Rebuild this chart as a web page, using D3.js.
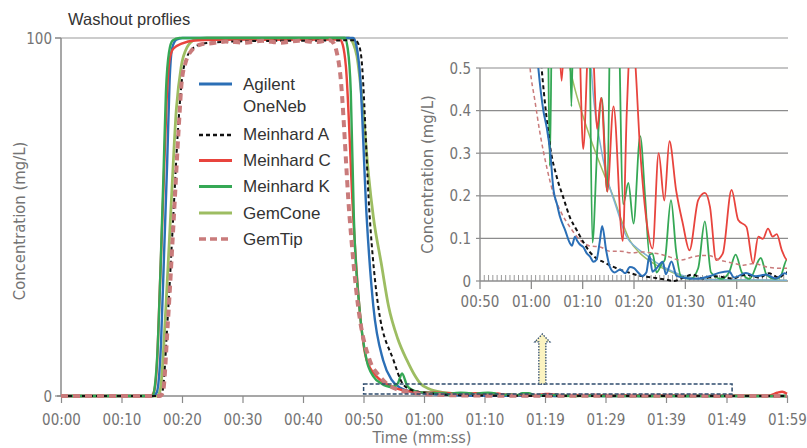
<!DOCTYPE html>
<html><head><meta charset="utf-8">
<script src="https://cdn.jsdelivr.net/npm/d3@7/dist/d3.min.js"></script>
<style>
body{margin:0;background:#fff;}
svg{display:block;}
.cond{font-family:"DejaVu Sans Condensed","DejaVu Sans",sans-serif;font-stretch:condensed;fill:#747474;}
.reg{font-family:"Liberation Sans",Arial,sans-serif;fill:#333;}
</style></head><body>
<svg id="chart" width="807" height="448"></svg>
<script>
// ---------------- DATA ----------------
const mainTickLabels = ["00:00","00:10","00:20","00:30","00:40","00:50","01:00","01:10","01:19","01:29","01:39","01:49","01:59"];
const mainYTicks = [0, 100];
const insetTickTimes = [50, 60, 70, 80, 90, 100];
const insetTickLabels = ["00:50","01:00","01:10","01:20","01:30","01:40"];
const insetYTicks = [0, 0.1, 0.2, 0.3, 0.4, 0.5];
const seriesNames = ["Agilent OneNeb","Meinhard A","Meinhard C","Meinhard K","GemCone","GemTip"];

// [time in seconds, concentration mg/L]
const agilentOneNeb = [[0,0],[15.1,0],[15.7,1],[16.4,15],[16.9,40],[17.4,65],[17.8,88],[18.2,97],[18.9,99.5],[19.9,100],[47.9,100],[48.4,98],[49.0,90],[50.1,50],[51.2,25],[52.8,10],[54.2,4.5],[55.7,2.2],[57.8,1.1],[60,0.72],
 [61.36,0.5],[62.34,0.40],[63.0,0.36],[63.65,0.306],[64.3,0.215],[65.0,0.18],[65.6,0.15],[66.6,0.119],[67.5,0.089],[67.9,0.083],[68.5,0.104],[68.9,0.095],[69.5,0.085],[70.1,0.08],[70.8,0.065],[71.4,0.058],[72.1,0.045],[72.7,0.05],[73.3,0.09],[73.8,0.129],[74.6,0.07],[75.3,0.033],[76.2,0.02],[77.3,0.027],[78.3,0.018],[79.2,0.033],[80.0,0.03],[80.8,0.02],[81.6,0.012],[82.4,0.02],[83.0,0.06],[83.6,0.022],[84.4,0.03],[85.6,0.045],[86.2,0.016],[87.3,0.046],[88.3,0.012],[90,0.007],[92,0.005],[94.7,0.011],[96.5,0.019],[98.5,0.023],[99.5,0.008],[101.8,0.019],[103.7,0.011],[105.7,0.015],[107.6,0.006],[109.3,0.018],[112,0.004],[119,0]];

const meinhardA = [[0,0],[16.1,0],[16.6,1],[17.5,22],[18.4,50],[19.2,75],[19.8,88],[20.5,94],[21.9,97.5],[23.9,98.6],[28,99],[35,99.2],[45,99.3],[48.2,99.4],[48.7,98.5],[49.2,95],[50.6,50],[52.0,25],[54.5,10],[56.1,3.2],[57.8,1.5],[60,0.85],
 [62.0,0.5],[62.9,0.39],[63.6,0.32],[64.95,0.244],[66.2,0.197],[67.5,0.15],[68.85,0.119],[70.1,0.092],[71.4,0.068],[72.8,0.052],[74.0,0.045],[75.3,0.037],[76.6,0.03],[77.9,0.024],[79.2,0.019],[81.2,0.012],[83.7,0.008],[86.3,0.003],[87.8,0.0],[89.5,0.007],[91.4,0.015],[93.4,0.006],[96,0.011],[99.2,0.006],[101.8,0.015],[104.4,0.008],[106.3,0.018],[108.3,0.008],[109.6,0.02],[112,0.003],[119,0]];

const meinhardC = [[0,0],[14.7,0],[15.2,1],[15.7,8],[16.2,30],[16.8,58],[17.3,82],[17.8,94],[18.4,97],[19.9,98.5],[21.9,99.3],[25,99.5],[45.7,99.6],[46.2,98],[46.7,92],[47.9,50],[48.9,25],[50.1,10],[52.0,5],[53.7,3],[55.2,2],[56.8,1.4],[58.4,1.1],[60,1.0],
 [62,0.9],[64,0.8],[65.3,0.6],[65.9,0.47],[66.5,0.6],[68,0.8],[69.3,0.6],[70.1,0.31],[71.0,0.55],[71.6,0.7],[72.2,0.5],[72.8,0.357],[73.6,0.43],[74.8,0.21],[76.0,0.41],[77.8,0.094],[78.6,0.4],[79.4,0.58],[80.0,0.55],[81.2,0.306],[82.5,0.135],[83.6,0.076],[84.8,0.3],[85.9,0.189],[86.9,0.328],[88.2,0.213],[89.5,0.135],[90.8,0.072],[92.5,0.19],[93.8,0.207],[94.8,0.174],[96.0,0.049],[97.3,0.065],[99.0,0.214],[100.3,0.143],[101.9,0.127],[103.2,0.041],[104.2,0.104],[105.1,0.099],[106.1,0.123],[107.0,0.104],[107.8,0.11],[108.8,0.072],[109.8,0.05],[111,0.05],[116,0.1],[117.4,0.9],[118.2,1.2],[119,0.6]];

const meinhardK = [[0,0],[15.0,0],[15.4,3],[15.8,12],[16.3,35],[16.8,62],[17.2,85],[17.7,96],[18.3,99.3],[19.4,100],[46.5,100],[47.0,97],[47.5,85],[48.0,50],[48.9,25],[50.1,10],[51.2,5.5],[52.5,3.5],[54.2,2.5],[55.2,3.5],[55.9,6.3],[56.7,3],[57.7,1.6],[58.8,1.1],[60,0.9],
 [61.5,0.8],[63.1,0.7],[63.6,0.27],[64.1,0.7],[65.5,0.9],[67.3,0.7],[67.8,0.41],[68.3,0.7],[70,0.9],[71.2,0.7],[71.9,0.09],[72.8,0.3],[73.7,0.43],[74.8,0.21],[75.6,0.8],[76.6,0.8],[77.9,0.18],[78.9,0.23],[79.9,0.135],[81.2,0.34],[82.2,0.19],[83.0,0.062],[83.6,0.065],[84.4,0.02],[85.4,0.04],[86,0.05],[87.2,0.19],[88.2,0.07],[89.2,0.01],[91,0.005],[92.5,0.03],[93.8,0.14],[95.0,0.02],[97,0.005],[98.5,0.02],[99.8,0.062],[101,0.02],[102.5,0.005],[104.7,0.054],[105.8,0.015],[107.5,0.005],[108.5,0.01],[109.8,0.05],[111,0.01],[119,0]];

const gemCone = [[0,0],[15.8,0],[16.3,2],[17.2,25],[18.1,55],[18.9,80],[19.7,92],[20.7,97.5],[21.9,99.5],[23.9,100],[47.2,100],[47.9,98.5],[48.5,95],[49.5,80],[50.4,62],[51.2,50],[52.5,37],[53.7,25],[55.2,16],[56.7,10],[57.9,6],[58.9,3.5],[60.3,2],[62.5,1.0],[64.5,0.7],[66,0.58],
 [67.5,0.5],[68.5,0.45],[70.8,0.36],[73.3,0.277],[74.7,0.235],[75.9,0.2],[77.8,0.135],[79.1,0.097],[81.1,0.066],[83.7,0.042],[86.2,0.027],[89.5,0.011],[92.7,0.005],[96,0.003],[100,0.002],[119,0]];

const gemTip = [[0,0],[16.2,0],[16.7,1],[17.5,20],[18.5,50],[19.3,75],[19.8,88],[20.4,93],[21.4,96.5],[22.9,98.2],[25,98.6],[27,99],[30,98.7],[33,99.2],[36,98.7],[39,99.2],[42,98.9],[44,99.4],[44.7,98.5],[45.2,96],[45.7,91],[47.3,50],[48.7,25],[50.6,10],[52.3,5.4],[53.7,3],[55.2,1.8],[56.8,1.1],[58.4,0.75],
 [59.75,0.5],[60.7,0.423],[61.7,0.346],[63,0.267],[64.3,0.205],[65.6,0.166],[67.5,0.127],[69.5,0.096],[71.5,0.082],[73.4,0.08],[75.3,0.07],[77.3,0.07],[79.5,0.066],[81.5,0.068],[83.5,0.066],[85.1,0.063],[87,0.056],[89,0.049],[91.6,0.057],[93.5,0.06],[94.8,0.059],[96.5,0.05],[98.1,0.045],[100,0.04],[101.3,0.037],[103.3,0.041],[105.9,0.033],[108.5,0.03],[109.8,0.03],[112,0.01],[119,0]];

// faint unlabeled trace visible only in the zoomed inset
const unlabeledTrace = [[71.0,0.62],[72.2,0.42],[73.3,0.33],[74.6,0.25],[76.5,0.175],[78.5,0.105],[80.5,0.078],[82.5,0.06],[84,0.046],[86.2,0.03],[89,0.015],[92,0.006],[96,0.003],[109.8,0.002]];

// zoom box & arrow annotation (data units)
const zoomBox = {t0:49.6, t1:110.0, v0:0.55, v1:3.35};
const arrowSpec = {t:78.9, vBase:3.35, vHead:15.1, vTip:17.3};

// ---------------- STYLES ----------------
const seriesData = {
  "Agilent OneNeb": agilentOneNeb, "Meinhard A": meinhardA, "Meinhard C": meinhardC,
  "Meinhard K": meinhardK, "GemCone": gemCone, "GemTip": gemTip
};
const styles = {
  "Agilent OneNeb": {color:"#2b6fb6", w:2.4, iw:2.0},
  "Meinhard A":     {color:"#111111", w:2.0, iw:2.0, dash:"4,3", idash:"4,3"},
  "Meinhard C":     {color:"#e8443d", w:2.4, iw:1.8},
  "Meinhard K":     {color:"#35a855", w:2.4, iw:1.8},
  "GemCone":        {color:"#9dbd62", w:2.8, iw:1.5},
  "GemTip":         {color:"#c97b7b", w:4.0, iw:1.5, dash:"7,5", idash:"4,3"}
};

const svg = d3.select("#chart");

// ---------------- MAIN CHART ----------------
const x = d3.scaleLinear().domain([0,119]).range([61,787]);
const y = d3.scaleLinear().domain([0,100]).range([396,38]);

svg.append("text").attr("class","reg").attr("x",68).attr("y",25)
  .attr("font-size",16.5).text("Washout proflies");

// top gridline at 100
svg.append("line").attr("x1",55).attr("x2",788).attr("y1",y(100)).attr("y2",y(100))
  .attr("stroke","#9a9a9a").attr("stroke-width",1.2);

// y axis
svg.append("line").attr("x1",x(0)).attr("x2",x(0)).attr("y1",y(100)).attr("y2",y(0))
  .attr("stroke","#8a8a8a").attr("stroke-width",1.5);
mainYTicks.forEach(v=>{
  svg.append("line").attr("x1",x(0)-6).attr("x2",x(0)).attr("y1",y(v)).attr("y2",y(v))
    .attr("stroke","#8a8a8a").attr("stroke-width",1.2);
  svg.append("text").attr("class","cond").attr("x",x(0)-9).attr("y",y(v)+5.5)
    .attr("text-anchor","end").attr("font-size",15).text(v);
});
svg.append("text").attr("class","cond").attr("font-size",16.5)
  .attr("transform",`translate(25,${(y(0)+y(100))/2+4}) rotate(-90)`)
  .attr("text-anchor","middle").text("Concentration (mg/L)");

// x axis
const mainTickVals = mainTickLabels.map((d,i)=>i*119/12);
const xAxisG = svg.append("g").attr("transform",`translate(0,${y(0)})`)
  .call(d3.axisBottom(x).tickValues(mainTickVals).tickFormat((d,i)=>mainTickLabels[i]).tickSize(7).tickSizeOuter(0));
xAxisG.select(".domain").remove();
xAxisG.selectAll(".tick line").attr("stroke","#8a8a8a").attr("stroke-width",1.2);
xAxisG.selectAll(".tick text").attr("class","cond").attr("font-size",15).attr("dy","1.25em").attr("fill","#747474");
svg.append("line").attr("x1",57).attr("x2",788).attr("y1",y(0)).attr("y2",y(0))
  .attr("stroke","#8a8a8a").attr("stroke-width",1.5);
svg.append("text").attr("class","cond").attr("font-size",16).attr("x",422).attr("y",443)
  .attr("text-anchor","middle").text("Time (mm:ss)");

// main lines
const lineMain = d3.line().x(d=>x(d[0])).y(d=>y(d[1])).curve(d3.curveMonotoneX);
const mainOrder = ["GemCone","Agilent OneNeb","Meinhard C","Meinhard K","Meinhard A","GemTip"];
mainOrder.forEach(n=>{
  const s = styles[n];
  svg.append("path").datum(seriesData[n]).attr("d",lineMain).attr("fill","none")
    .attr("stroke",s.color).attr("stroke-width",s.w).attr("stroke-dasharray",s.dash||null)
    .attr("stroke-linejoin","round");
});

// zoom box
svg.append("rect").attr("x",x(zoomBox.t0)).attr("y",y(zoomBox.v1))
  .attr("width",x(zoomBox.t1)-x(zoomBox.t0)).attr("height",y(zoomBox.v0)-y(zoomBox.v1))
  .attr("fill","none").attr("stroke","#2f4c6e").attr("stroke-width",1.5).attr("stroke-dasharray","4,2");

// arrow
{
  const cx = x(arrowSpec.t), sw = 3.5, hw = 7.5;
  const yb = y(arrowSpec.vBase), yh = y(arrowSpec.vHead), yt = y(arrowSpec.vTip);
  const p = d3.path();
  p.moveTo(cx-sw,yb); p.lineTo(cx-sw,yh); p.lineTo(cx-hw,yh); p.lineTo(cx,yt);
  p.lineTo(cx+hw,yh); p.lineTo(cx+sw,yh); p.lineTo(cx+sw,yb); p.closePath();
  svg.append("path").attr("d",p.toString()).attr("fill","#fbf3c0")
    .attr("stroke","#2f4c6e").attr("stroke-width",1.3).attr("stroke-dasharray","1.5,1.3");
}

// legend
const legendRows = [
  {name:"Agilent OneNeb", ly:84, texts:[["Agilent",90],["OneNeb",112]]},
  {name:"Meinhard A", ly:135, texts:[["Meinhard A",140]]},
  {name:"Meinhard C", ly:160.5, texts:[["Meinhard C",166]]},
  {name:"Meinhard K", ly:186.5, texts:[["Meinhard K",192]]},
  {name:"GemCone", ly:213, texts:[["GemCone",218.5]]},
  {name:"GemTip", ly:239, texts:[["GemTip",245]]}
];
legendRows.forEach(r=>{
  const s = styles[r.name];
  svg.append("line").attr("x1",199).attr("x2",232).attr("y1",r.ly).attr("y2",r.ly)
    .attr("stroke",s.color).attr("stroke-width",r.name==="GemTip"?3.5:(r.name==="Meinhard A"?2.5:3))
    .attr("stroke-dasharray",r.name==="GemTip"?"7,4":(r.name==="Meinhard A"?"4,3":null));
  r.texts.forEach(t=>{
    svg.append("text").attr("class","reg").attr("x",243).attr("y",t[1]).attr("font-size",17).text(t[0]);
  });
});

// ---------------- INSET ----------------
const xi = d3.scaleLinear().domain([50,109.8]).range([480,787]);
const yi = d3.scaleLinear().domain([0,0.5]).range([281,68]);

svg.append("rect").attr("x",414).attr("y",54).attr("width",393).attr("height",258).attr("fill","#fffffe");

insetYTicks.forEach(v=>{
  if(v>0) svg.append("line").attr("x1",xi(50)).attr("x2",788).attr("y1",yi(v)).attr("y2",yi(v))
    .attr("stroke","#8c8c8c").attr("stroke-width",1.2);
  svg.append("line").attr("x1",xi(50)-4).attr("x2",xi(50)).attr("y1",yi(v)).attr("y2",yi(v))
    .attr("stroke","#8c8c8c").attr("stroke-width",1.2);
  svg.append("text").attr("class","cond").attr("x",xi(50)-9).attr("y",yi(v)+5.5)
    .attr("text-anchor","end").attr("font-size",15).text(v===0?"0":v.toFixed(1));
});
// minor ticks
d3.range(50+10/12, 109.5, 10/12).forEach(t=>{
  svg.append("line").attr("x1",xi(t)).attr("x2",xi(t)).attr("y1",yi(0)).attr("y2",yi(0)-6)
    .attr("stroke","#9a9a9a").attr("stroke-width",1);
});
svg.append("line").attr("x1",xi(50)).attr("x2",788).attr("y1",yi(0)).attr("y2",yi(0))
  .attr("stroke","#8c8c8c").attr("stroke-width",1.4);
svg.append("line").attr("x1",xi(50)).attr("x2",xi(50)).attr("y1",yi(0.5)).attr("y2",yi(0))
  .attr("stroke","#8c8c8c").attr("stroke-width",1.4);
insetTickTimes.forEach((t,i)=>{
  svg.append("line").attr("x1",xi(t)).attr("x2",xi(t)).attr("y1",yi(0)).attr("y2",yi(0)+8)
    .attr("stroke","#8c8c8c").attr("stroke-width",1.3);
  svg.append("text").attr("class","cond").attr("x",xi(t)).attr("y",307)
    .attr("text-anchor","middle").attr("font-size",15).text(insetTickLabels[i]);
});
svg.append("text").attr("class","cond").attr("font-size",16.5)
  .attr("transform",`translate(433,${(yi(0)+yi(0.5))/2}) rotate(-90)`)
  .attr("text-anchor","middle").text("Concentration (mg/L)");

svg.append("clipPath").attr("id","insetClip").append("rect")
  .attr("x",xi(50)).attr("y",yi(0.5)).attr("width",xi(109.8)-xi(50)).attr("height",yi(0)-yi(0.5)+2);
const gi = svg.append("g").attr("clip-path","url(#insetClip)");
const lineInset = d3.line().x(d=>xi(d[0])).y(d=>yi(d[1])).curve(d3.curveMonotoneX);

const insetOrder = ["GemCone","__unlabeled","Meinhard K","Meinhard C","GemTip","Meinhard A","Agilent OneNeb"];
insetOrder.forEach(n=>{
  if(n==="__unlabeled"){
    gi.append("path").datum(unlabeledTrace).attr("d",lineInset).attr("fill","none")
      .attr("stroke","#7eb1d2").attr("stroke-width",1.5);
    return;
  }
  const s = styles[n];
  gi.append("path").datum(seriesData[n].filter(d=>d[0]>=45)).attr("d",lineInset).attr("fill","none")
    .attr("stroke",s.color).attr("stroke-width",s.iw).attr("stroke-dasharray",s.idash||null)
    .attr("stroke-linejoin","round");
});
</script>
</body></html>
